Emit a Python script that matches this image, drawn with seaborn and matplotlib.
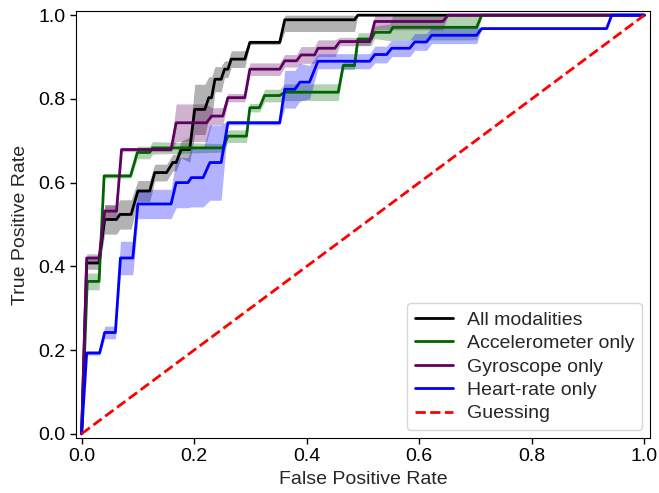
import numpy as np
import pandas as pd
import matplotlib
matplotlib.use('Agg')
import matplotlib.pyplot as plt
import seaborn as sns

# mean ROC curves (fpr, tpr) and the std used for the shaded band
all_fpr = [0, 0.009, 0.031, 0.041, 0.062, 0.068, 0.088, 0.1, 0.121, 0.13, 0.151, 0.162, 0.168, 0.177,
           0.192, 0.201, 0.219, 0.226, 0.231, 0.237, 0.248, 0.254, 0.26, 0.266, 0.29, 0.299, 0.352,
           0.361, 0.485, 0.491, 1.0]
all_tpr = [0, 0.408, 0.408, 0.512, 0.512, 0.524, 0.524, 0.58, 0.58, 0.624, 0.624, 0.648, 0.648, 0.679,
           0.679, 0.775, 0.775, 0.803, 0.803, 0.847, 0.847, 0.871, 0.871, 0.895, 0.895, 0.935, 0.935,
           0.989, 0.989, 1.0, 1.0]
all_std = [0, 0.015, 0.015, 0.035, 0.035, 0.035, 0.035, 0.025, 0.025, 0.02, 0.02, 0.02, 0.02, 0.02,
           0.03, 0.06, 0.06, 0.05, 0.05, 0.03, 0.03, 0.02, 0.02, 0.02, 0.02, 0.005, 0.005,
           0.028, 0.028, 0, 0]

acc_fpr = [0, 0.010, 0.031, 0.04, 0.087, 0.099, 0.121, 0.126, 0.251, 0.26, 0.293, 0.299, 0.316, 0.325,
           0.352, 0.361, 0.456, 0.465, 0.485, 0.491, 0.515, 0.521, 0.548, 0.553, 0.702, 0.711, 1.0]
acc_tpr = [0, 0.364, 0.364, 0.616, 0.616, 0.672, 0.672, 0.683, 0.683, 0.711, 0.711, 0.779, 0.779, 0.808,
           0.808, 0.816, 0.816, 0.88, 0.88, 0.943, 0.943, 0.959, 0.959, 0.971, 0.971, 1.0, 1.0]
acc_std = [0, 0.02, 0.02, 0.005, 0.005, 0.015, 0.015, 0.015, 0.01, 0.015, 0.015, 0.01, 0.01, 0.015,
           0.015, 0.02, 0.02, 0.01, 0.01, 0.015, 0.015, 0.015, 0.02, 0.03, 0.03, 0, 0]

gyr_fpr = [0, 0.009, 0.031, 0.041, 0.062, 0.071, 0.159, 0.168, 0.222, 0.231, 0.251, 0.26, 0.29, 0.299,
           0.352, 0.361, 0.382, 0.39, 0.414, 0.42, 0.45, 0.459, 0.512, 0.521, 0.642, 0.651, 1.0]
gyr_tpr = [0, 0.42, 0.42, 0.532, 0.532, 0.679, 0.679, 0.743, 0.743, 0.759, 0.759, 0.803, 0.803, 0.871,
           0.871, 0.891, 0.891, 0.905, 0.905, 0.921, 0.921, 0.937, 0.937, 0.985, 0.985, 1.0, 1.0]
gyr_std = [0, 0.01, 0.01, 0.015, 0.015, 0.005, 0.005, 0.045, 0.045, 0.02, 0.02, 0.01, 0.01, 0.015,
           0.015, 0.015, 0.015, 0.02, 0.02, 0.02, 0.02, 0.01, 0.01, 0.02, 0.02, 0, 0]

hr_fpr = [0, 0.009, 0.032, 0.041, 0.06, 0.069, 0.091, 0.1, 0.159, 0.168, 0.189, 0.195, 0.216, 0.228,
          0.248, 0.26, 0.352, 0.361, 0.379, 0.388, 0.405, 0.42, 0.512, 0.521, 0.542, 0.551, 0.583,
          0.592, 0.613, 0.622, 0.702, 0.711, 0.933, 0.942, 1.0]
hr_tpr = [0, 0.193, 0.193, 0.242, 0.242, 0.42, 0.42, 0.549, 0.549, 0.6, 0.6, 0.612, 0.612, 0.648,
          0.648, 0.743, 0.743, 0.823, 0.823, 0.84, 0.84, 0.89, 0.89, 0.906, 0.906, 0.921, 0.921,
          0.936, 0.936, 0.952, 0.952, 0.968, 0.968, 1.0, 1.0]
hr_std = [0, 0.005, 0.005, 0.015, 0.015, 0.04, 0.04, 0.035, 0.035, 0.06, 0.06, 0.07, 0.07, 0.09,
          0.09, 0.005, 0.005, 0.045, 0.045, 0.045, 0.04, 0.018, 0.018, 0.02, 0.02, 0.02, 0.02,
          0.02, 0.02, 0.02, 0.02, 0, 0, 0, 0]

labels = ['All modalities', 'Accelerometer only', 'Gyroscope only', 'Heart-rate only']
colors = ['black', 'darkgreen', '#600060', 'blue']
curves = [(all_fpr, all_tpr, all_std), (acc_fpr, acc_tpr, acc_std),
          (gyr_fpr, gyr_tpr, gyr_std), (hr_fpr, hr_tpr, hr_std)]

sns.set_style('ticks')
plt.rcParams['font.family'] = ['Liberation Sans', 'DejaVu Sans']

fig, ax = plt.subplots(figsize=(6.59, 4.93), dpi=100)
fig.subplots_adjust(left=0.1153, right=0.9863, top=0.9777, bottom=0.1116)

for (fpr, tpr, std), lab, col in zip(curves, labels, colors):
    df = pd.DataFrame({'fpr': fpr, 'tpr': tpr})
    lo = np.clip(np.array(tpr) - np.array(std), 0, 1)
    hi = np.clip(np.array(tpr) + np.array(std), 0, 1)
    ax.fill_between(fpr, lo, hi, color=col, alpha=0.3, lw=0)
    sns.lineplot(data=df, x='fpr', y='tpr', color=col, lw=2, label=lab,
                 estimator=None, sort=False, ax=ax)

sns.lineplot(x=[0, 1], y=[0, 1], color='red', lw=2, ls='--', label='Guessing', ax=ax)

ax.set_xlim(-0.01, 1.01)
ax.set_ylim(-0.01, 1.01)
ax.set_xticks([0, 0.2, 0.4, 0.6, 0.8, 1.0])
ax.set_yticks([0, 0.2, 0.4, 0.6, 0.8, 1.0])
ax.tick_params(labelsize=14, colors='black', width=1, length=4)
ax.set_xlabel('False Positive Rate', fontsize=14, labelpad=4)
ax.set_ylabel('True Positive Rate', fontsize=14, labelpad=7)
for s in ax.spines.values():
    s.set_color('black')
ax.legend(loc='lower right', fontsize=14, handlelength=2.0, borderaxespad=0.4,
          labelspacing=0.3, handletextpad=0.7)

fig.savefig('out.png', dpi=100)
